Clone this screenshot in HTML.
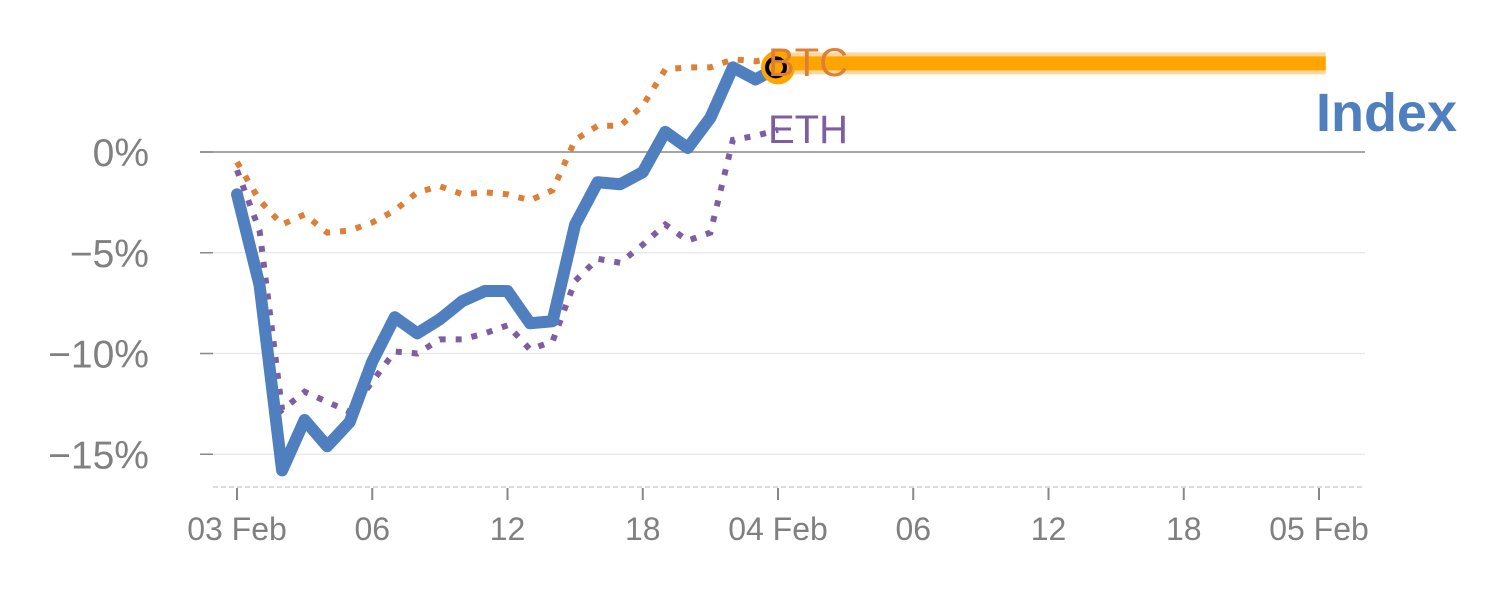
<!DOCTYPE html>
<html><head><meta charset="utf-8"><style>
body{margin:0;background:#fff}
svg{display:block;font-family:"Liberation Sans",sans-serif}
</style></head><body>
<svg id="chart" width="1500" height="600" viewBox="0 0 1500 600"></svg>
<script>
const hours=[0,1,2,3,4,5,6,7,8,9,10,11,12,13,14,15,16,17,18,19,20,21,22,23,24];
const indexVals=[-2.1,-6.6,-15.8,-13.3,-14.6,-13.4,-10.4,-8.2,-9.0,-8.3,-7.4,-6.9,-6.9,-8.5,-8.4,-3.6,-1.5,-1.6,-1.0,1.0,0.2,1.7,4.2,3.6,4.2];
const btcVals=[-0.5,-2.4,-3.6,-3.1,-4.0,-3.9,-3.5,-2.9,-2.0,-1.7,-2.1,-2.0,-2.1,-2.4,-1.9,0.6,1.3,1.3,2.3,4.1,4.2,4.2,4.6,4.5,4.7];
const ethVals=[-0.9,-3.9,-12.8,-11.9,-12.4,-12.9,-11.4,-9.9,-10.0,-9.3,-9.3,-9.0,-8.6,-9.8,-9.4,-6.4,-5.3,-5.5,-4.6,-3.6,-4.4,-4.0,0.6,0.8,1.1];
const forecastHours=[24,48.3];
const forecastVals=[4.4,4.4];
const yTicks=[0,-5,-10,-15];
const yTickLabels=["0%","\u22125%","\u221210%","\u221215%"];
const xTicks=[0,6,12,18,24,30,36,42,48];
const xTickLabels=["03 Feb","06","12","18","04 Feb","06","12","18","05 Feb"];

const X=h=>237+h*(1082/48);
const Y=v=>152-v*20.15;
const svg=document.getElementById('chart');
const NS='http://www.w3.org/2000/svg';
function mk(tag,attrs,parent){const e=document.createElementNS(NS,tag);for(const k in attrs)e.setAttribute(k,attrs[k]);(parent||svg).appendChild(e);return e;}

yTicks.forEach((v,i)=>{
  const g=mk('line',{x1:200,x2:1365,y1:Y(v),y2:Y(v),stroke:v===0?'#888':'#e6e6e6','stroke-width':v===0?1.5:1.2});
  
  
  const t=mk('line',{x1:200,x2:213,y1:Y(v),y2:Y(v),stroke:'#888','stroke-width':1.5});
  
  
  const l=mk('text',{x:149,y:Y(v)+14,'text-anchor':'end','font-size':39,fill:'#808080'});
  l.textContent=yTickLabels[i];
  
  
});
const base=mk('line',{x1:213,x2:1365,y1:487,y2:487,stroke:'#ddd','stroke-width':2,'stroke-dasharray':'5,3'});


xTicks.forEach((h,i)=>{
  const t=mk('line',{x1:X(h),x2:X(h),y1:488,y2:500,stroke:'#888','stroke-width':2});
  
  
  const l=mk('text',{x:X(h),y:540,'text-anchor':'middle','font-size':32,fill:'#808080'});
  l.textContent=xTickLabels[i];
  
  
});
function pts(hs,vs){return hs.map((h,i)=>X(h)+','+Y(vs[i])).join(' ');}
const fh=mk('polyline',{points:pts(forecastHours,forecastVals),fill:'none',stroke:'#ffd79a','stroke-width':22});


const f=mk('polyline',{points:pts(forecastHours,forecastVals),fill:'none',stroke:'#ffa500','stroke-width':14});


const btc=mk('polyline',{points:pts(hours,btcVals),fill:'none',stroke:'#dd8035','stroke-width':6,'stroke-dasharray':'6,10'});


const eth=mk('polyline',{points:pts(hours,ethVals),fill:'none',stroke:'#7d5ea3','stroke-width':6,'stroke-dasharray':'6,10'});


const idx=mk('polyline',{points:pts(hours,indexVals),fill:'none',stroke:'#4f7fbf','stroke-width':12,'stroke-linejoin':'round','stroke-linecap':'round'});


const last=hours.length-1;
const m1=mk('circle',{cx:X(hours[last]),cy:Y(indexVals[last]),r:17,fill:'#ffa500'});


const m2=mk('circle',{cx:X(hours[last])-2,cy:Y(indexVals[last]),r:9,fill:'none',stroke:'#000','stroke-width':4});


const lb=mk('text',{x:768,y:76,'font-size':40,fill:'#dd8035'});lb.textContent='BTC';


const le=mk('text',{x:768,y:143,'font-size':40,fill:'#7d5ea3'});le.textContent='ETH';


const li=mk('text',{x:1457,y:131,'text-anchor':'end','font-size':54,'font-weight':'bold',fill:'#4f7fbf'});li.textContent='Index';


</script>
</body></html>
